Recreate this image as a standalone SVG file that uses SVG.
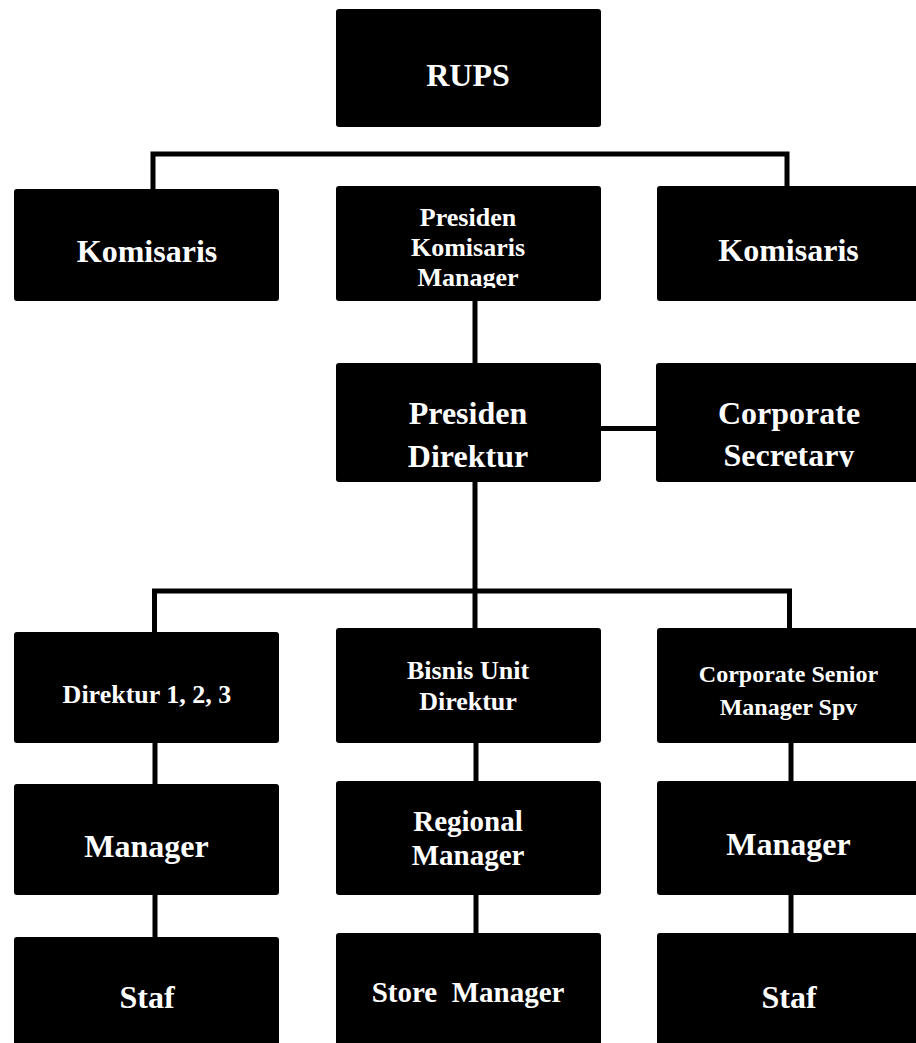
<svg xmlns="http://www.w3.org/2000/svg" width="916" height="1043" viewBox="0 0 916 1043">
<style>
.box{fill:#000;}
.t{fill:#fff;font-family:"Liberation Serif","Times New Roman",serif;font-weight:bold;text-anchor:middle;}
.s32{font-size:32px;}
.s29{font-size:29px;}
.s26{font-size:26px;}
.s24{font-size:24px;}
.ln{stroke:#000;stroke-width:5;fill:none;stroke-linecap:square;}
</style>
<defs>
<clipPath id="clipPKM"><rect x="336" y="186" width="265" height="102"/></clipPath>
<clipPath id="clipCS"><rect x="656" y="363" width="264" height="104"/></clipPath>
</defs>
<g id="connectors">
<polyline class="ln" points="153,187 153,154 787,154 787,184"/>
<line class="ln" x1="475" y1="301" x2="475" y2="361"/>
<line class="ln" x1="601" y1="428.5" x2="654" y2="428.5"/>
<line class="ln" x1="475" y1="482" x2="475" y2="626"/>
<polyline class="ln" points="154.5,630 154.5,591 789.5,591 789.5,626"/>
<line class="ln" x1="155" y1="743" x2="155" y2="782"/>
<line class="ln" x1="476" y1="743" x2="476" y2="779"/>
<line class="ln" x1="791" y1="743" x2="791" y2="779"/>
<line class="ln" x1="155" y1="895" x2="155" y2="935"/>
<line class="ln" x1="476" y1="895" x2="476" y2="931"/>
<line class="ln" x1="791" y1="895" x2="791" y2="931"/>
</g>
<g id="rups">
<rect class="box" x="336" y="9" width="265" height="118" rx="3"/>
<text class="t s32" x="468" y="86">RUPS</text>
</g>
<g id="komisaris-left">
<rect class="box" x="14" y="189" width="265" height="112" rx="3"/>
<text class="t s32" x="147" y="262">Komisaris</text>
</g>
<g id="presiden-komisaris">
<rect class="box" x="336" y="186" width="265" height="115" rx="3"/>
<g clip-path="url(#clipPKM)">
<text class="t s26" x="468" y="226">Presiden</text>
<text class="t s26" x="468" y="256">Komisaris</text>
<text class="t s26" x="468" y="286">Manager</text>
</g>
</g>
<g id="komisaris-right">
<rect class="box" x="657" y="186" width="270" height="115" rx="3"/>
<text class="t s32" x="788.5" y="261">Komisaris</text>
</g>
<g id="presiden-direktur">
<rect class="box" x="336" y="363" width="265" height="119" rx="3"/>
<text class="t s32" x="468" y="424">Presiden</text>
<text class="t s32" x="468" y="467">Direktur</text>
</g>
<g id="corporate-secretary">
<rect class="box" x="656" y="363" width="270" height="119" rx="3"/>
<g clip-path="url(#clipCS)">
<text class="t s32" x="789" y="424">Corporate</text>
<text class="t s32" x="789" y="466">Secretary</text>
</g>
</g>
<g id="direktur-123">
<rect class="box" x="14" y="632" width="265" height="111" rx="3"/>
<text class="t s26" x="147" y="703">Direktur 1, 2, 3</text>
</g>
<g id="bisnis-unit">
<rect class="box" x="336" y="628" width="265" height="115" rx="3"/>
<text class="t s26" x="468" y="679">Bisnis Unit</text>
<text class="t s26" x="468" y="710">Direktur</text>
</g>
<g id="corporate-senior">
<rect class="box" x="657" y="628" width="270" height="115" rx="3"/>
<text class="t s24" x="788.5" y="682">Corporate Senior</text>
<text class="t s24" x="788.5" y="715">Manager Spv</text>
</g>
<g id="manager-left">
<rect class="box" x="14" y="784" width="265" height="111" rx="3"/>
<text class="t s32" x="146.5" y="857">Manager</text>
</g>
<g id="regional-manager">
<rect class="box" x="336" y="781" width="265" height="114" rx="3"/>
<text class="t s29" x="468" y="831">Regional</text>
<text class="t s29" x="468" y="865">Manager</text>
</g>
<g id="manager-right">
<rect class="box" x="657" y="781" width="270" height="114" rx="3"/>
<text class="t s32" x="788.5" y="855">Manager</text>
</g>
<g id="staf-left">
<rect class="box" x="14" y="937" width="265" height="120" rx="3"/>
<text class="t s32" x="147" y="1008">Staf</text>
</g>
<g id="store-manager">
<rect class="box" x="336" y="933" width="265" height="124" rx="3"/>
<text class="t s29" x="468" y="1002" xml:space="preserve">Store  Manager</text>
</g>
<g id="staf-right">
<rect class="box" x="657" y="933" width="270" height="124" rx="3"/>
<text class="t s32" x="789" y="1008">Staf</text>
</g>
</svg>
